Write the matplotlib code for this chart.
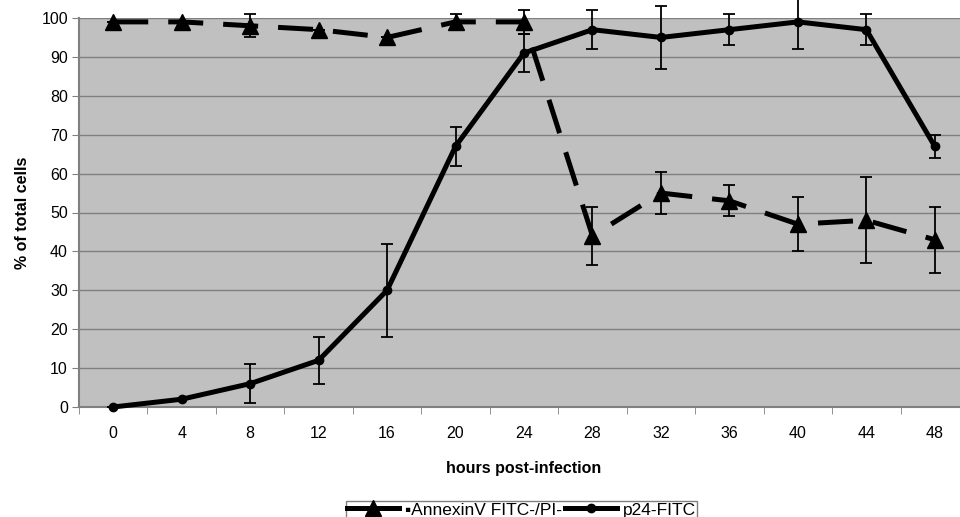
import matplotlib
matplotlib.use("Agg")
import matplotlib.pyplot as plt
from matplotlib.lines import Line2D
import numpy as np

plt.rcParams["font.family"] = ["Liberation Sans", "DejaVu Sans"]

# --- data ---
hours = [0, 4, 8, 12, 16, 20, 24, 28, 32, 36, 40, 44, 48]
annexin = [99, 99, 98, 97, 95, 99, 99, 44, 55, 53, 47, 48, 43]
annexin_err = [0, 0, 3, 0, 0, 2, 3, 7.5, 5.5, 4, 7, 11, 8.5]
p24 = [0, 2, 6, 12, 30, 67, 91, 97, 95, 97, 99, 97, 67]
p24_err = [0, 0, 5, 6, 12, 5, 5, 5, 8, 4, 7, 4, 3]
labels = ["\u25aaAnnexinV FITC-/PI-", "p24-FITC"]

x = np.arange(len(hours))

fig = plt.figure(figsize=(9.6, 5.17), dpi=100)
ax = fig.add_axes([79 / 960, 110 / 517, 890 / 960, 389 / 517])
ax.set_facecolor("#c0c0c0")

# error bars first, thin
ax.errorbar(x, annexin, yerr=annexin_err, fmt="none", ecolor="black",
            elinewidth=1.3, capsize=4, capthick=1.3, clip_on=False, zorder=3)
ax.errorbar(x, p24, yerr=p24_err, fmt="none", ecolor="black",
            elinewidth=1.3, capsize=4, capthick=1.3, clip_on=False, zorder=3)

ax.plot(x, annexin, color="black", lw=3.6, dashes=(7, 4), dash_capstyle="butt",
        marker="^", ms=11, clip_on=False, zorder=4)
ax.plot(x, p24, color="black", lw=3.6, marker="o", ms=6,
        clip_on=False, zorder=4)

ax.set_xlim(-0.5, len(hours) - 0.5)
ax.set_ylim(0, 100)
ax.set_yticks(range(0, 101, 10))
ax.yaxis.grid(True, color="#7f7f7f", lw=1)
ax.set_axisbelow(True)

ax.set_xticks(x)
ax.set_xticklabels([str(h) for h in hours])
ax.set_xticks(np.arange(-0.5, len(hours)), minor=True)
ax.tick_params(axis="x", which="major", length=0, pad=14, labelsize=11.5)
ax.tick_params(axis="x", which="minor", length=5, color="#808080")
ax.tick_params(axis="y", length=5, color="#808080", labelsize=11.5, pad=3)

for side in ["top", "right"]:
    ax.spines[side].set_visible(False)
for side in ["left", "bottom"]:
    ax.spines[side].set_color("#808080")
    ax.spines[side].set_linewidth(1.5)

ax.set_xlabel("hours post-infection", fontsize=11.5, fontweight="bold", labelpad=14)
ax.set_ylabel("% of total cells", fontsize=11.5, fontweight="bold", labelpad=8)

# legend: Excel-style short solid handles
handles = [
    Line2D([0, 1], [0, 0], color="black", lw=3.6, marker="^", ms=11, markevery=[1]),
    Line2D([0, 1], [0, 0], color="black", lw=3.6, marker="o", ms=6),
]
fig.legend(handles, labels, loc="upper left",
           bbox_to_anchor=(337 / 960, 1 - 492 / 517),
           ncol=2, frameon=True, fancybox=False, edgecolor="#808080",
           fontsize=12.5, handlelength=3.0, handletextpad=0.3,
           columnspacing=0.2, borderpad=0.1, framealpha=1)

fig.savefig("out.png", dpi=100)
